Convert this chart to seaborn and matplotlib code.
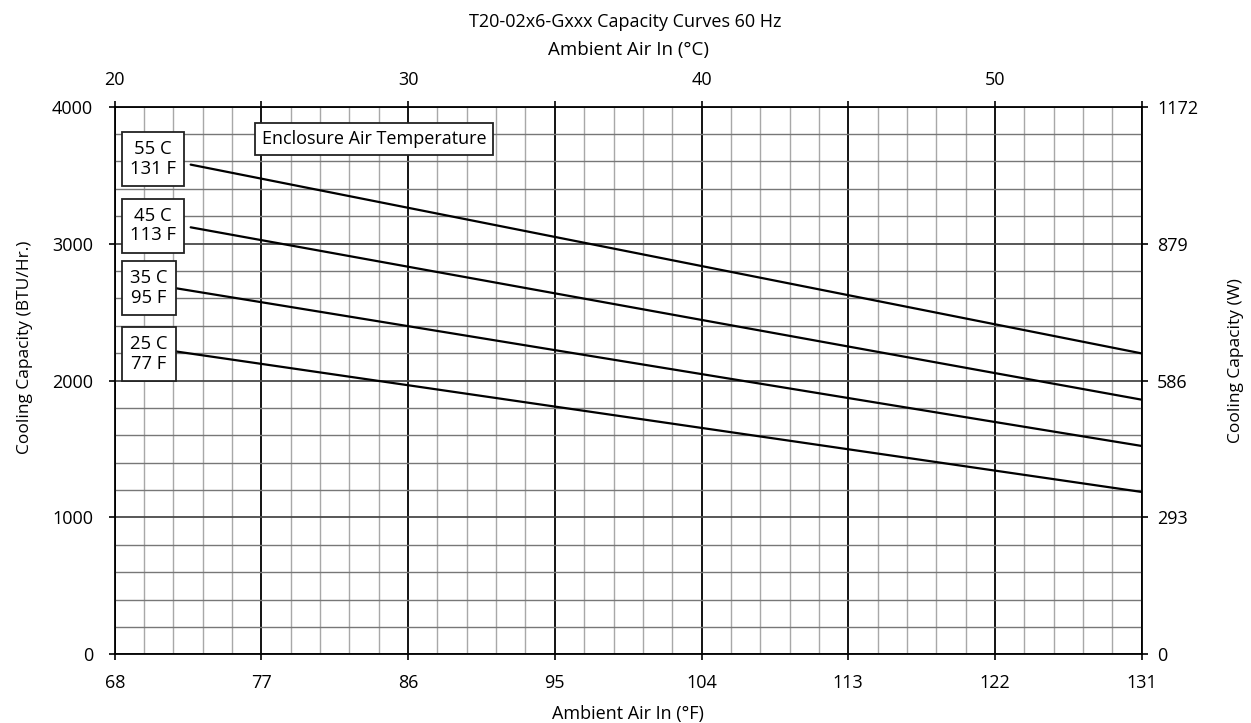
import matplotlib
matplotlib.use("Agg")
import matplotlib.pyplot as plt
import seaborn as sns
import numpy as np
import pandas as pd

# ---- data ----
series_names = ["55 C\n131 F", "45 C\n113 F", "35 C\n95 F", "25 C\n77 F"]
x_55c = [72.66, 131]
x_45c = [72.66, 131]
x_35c = [71.6, 131]
x_25c = [71.6, 131]
cap_55c = [3577, 2198]
cap_45c = [3119, 1860]
cap_35c = [2677, 1522]
cap_25c = [2215, 1186]
x_ticks_f = [68, 77, 86, 95, 104, 113, 122, 131]
y_ticks = [0, 1000, 2000, 3000, 4000]
w_ticks = [0, 293, 586, 879, 1172]
c_ticks = [20, 30, 40, 50]
c_minor_ticks = [25, 35, 45, 55]

rows = []
for name, xs, vals in zip(series_names, [x_55c, x_45c, x_35c, x_25c],
                          [cap_55c, cap_45c, cap_35c, cap_25c]):
    for x, v in zip(xs, vals):
        rows.append({"F": x, "BTU": v, "series": name})
df = pd.DataFrame(rows)

sns.set_theme(style="white")
plt.rcParams['font.family'] = ['Open Sans', 'DejaVu Sans']
plt.rcParams.update({"text.color": "black", "axes.labelcolor": "black",
                     "xtick.color": "black", "ytick.color": "black"})
FS = 13

fig = plt.figure(figsize=(12.51, 7.23), dpi=100)
ax = fig.add_axes([0.0917, 0.095, 0.8209, 0.7574])

# grid
for xv in np.arange(68, 131.01, 1.8):
    major = abs(((xv - 68) / 9) - round((xv - 68) / 9)) < 1e-6
    ax.axvline(xv, color="black" if major else "#a8a8a8", lw=1.3 if major else 1.0, zorder=1)
for yv in np.arange(0, 4000.1, 200):
    major = abs(yv % 1000) < 1e-6
    ax.axhline(yv, color="#4a4a4a" if major else "#777777", lw=1.3 if major else 1.0, zorder=1)

sns.lineplot(data=df, x="F", y="BTU", units="series", estimator=None,
             color="black", lw=1.6, ax=ax, legend=False, zorder=3)

ax.set_xlim(68, 131)
ax.set_ylim(0, 4000)
ax.set_xticks(x_ticks_f)
ax.set_xticklabels([str(t) for t in x_ticks_f])
ax.set_yticks(y_ticks)
ax.set_yticklabels([str(t) for t in y_ticks])
ax.tick_params(axis="both", direction="out", length=4.5, width=1.2, color="black",
               labelcolor="black", labelsize=FS, bottom=True, left=True)
ax.tick_params(axis="x", pad=10)
ax.tick_params(axis="y", pad=11)
ax.set_xlabel("Ambient Air In (°F)", fontsize=FS, labelpad=9)
ax.set_ylabel("Cooling Capacity (BTU/Hr.)", fontsize=12.5)
ax.yaxis.set_label_coords(-0.080, 0.561)
for s in ax.spines.values():
    s.set_color("black")
    s.set_linewidth(1.3)

# top axis (°C)
top = ax.secondary_xaxis("top", functions=(lambda f: (f - 32) / 1.8, lambda c: c * 1.8 + 32))
top.set_xticks(c_ticks)
top.set_xticklabels([str(t) for t in c_ticks])
top.set_xticks(c_minor_ticks, minor=True)
top.tick_params(which="both", direction="out", length=4.5, width=1.2, color="black",
                labelcolor="black", labelsize=FS, pad=8)
top.set_xlabel("Ambient Air In (°C)", fontsize=13.5, labelpad=12)
top.spines["top"].set_visible(False)

# right axis (W)
right = ax.secondary_yaxis("right", functions=(lambda b: b * 0.293, lambda w: w / 0.293))
right.set_yticks(w_ticks)
right.set_yticklabels([str(t) for t in w_ticks])
right.tick_params(direction="out", length=4.5, width=1.2, color="black",
                  labelcolor="black", labelsize=FS, pad=6.5)
right.set_ylabel("Cooling Capacity (W)", fontsize=12.5)
right.yaxis.set_label_coords(1.0845, 0.536, transform=ax.transAxes)
right.spines["right"].set_visible(False)

fig.suptitle("T20-02x6-Gxxx Capacity Curves 60 Hz", fontsize=FS, y=0.982)

# label boxes
label_pos = [(68.94, 3617), (68.94, 3132), (68.94, 2676), (68.94, 2194)]
for name, (lx, ly) in zip(series_names, label_pos):
    ax.text(lx, ly, name, ha="left", va="center", fontsize=13.3, multialignment="center",
            linespacing=1.1, zorder=5,
            bbox=dict(boxstyle="square,pad=0.45", fc="white", ec="#222222", lw=1.3))
ax.text(83.91, 3763, "Enclosure Air Temperature", ha="center", va="center", fontsize=FS, zorder=5,
        bbox=dict(boxstyle="square,pad=0.38", fc="white", ec="#222222", lw=1.3))

fig.savefig("out.png", dpi=100)
